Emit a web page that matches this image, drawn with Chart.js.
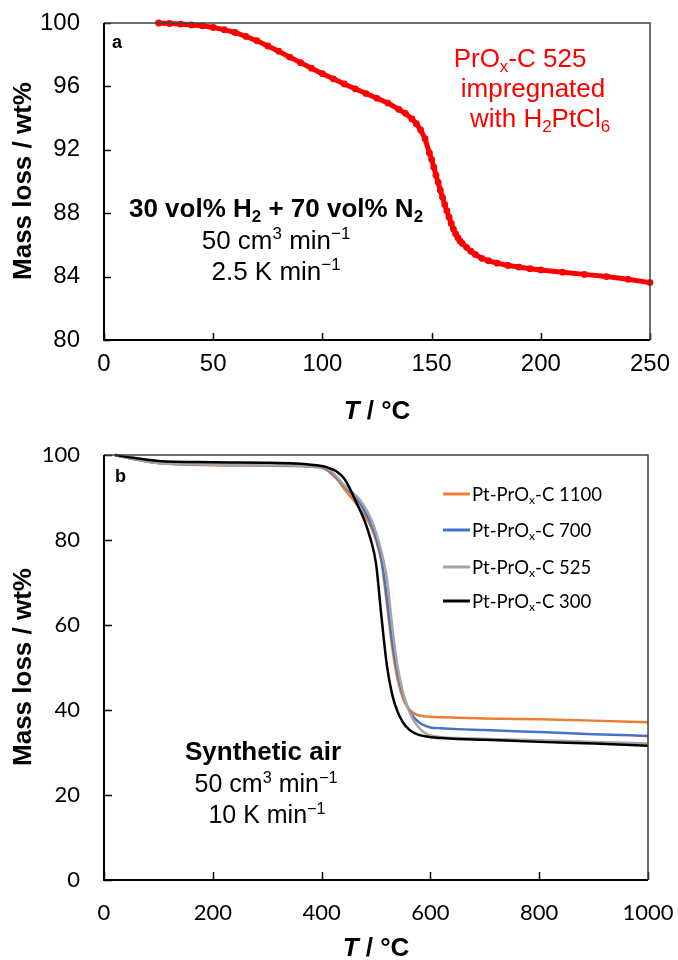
<!DOCTYPE html>
<html>
<head>
<meta charset="utf-8">
<script src="https://cdn.jsdelivr.net/npm/chart.js@4.4.1/dist/chart.umd.min.js"></script>
<style>
  html, body { margin: 0; padding: 0; background: #fff; }
  #wrap { position: relative; width: 678px; height: 960px; }
  #c1 { position: absolute; left: 0; top: 0; }
  #c2 { position: absolute; left: 0; top: 430px; }
</style>
</head>
<body>
<div id="wrap">
  <canvas id="c1" width="678" height="430"></canvas>
  <canvas id="c2" width="678" height="530"></canvas>
</div>
<script>
// (a) PrOx-C 525 impregnated with H2PtCl6, 30% H2 in N2
const tempA = [25, 30, 35, 40, 45, 50, 55, 60, 65, 70, 75, 80, 85, 90, 95, 100, 105, 110, 115, 120, 125, 130, 135,
  138, 141, 143, 145, 147, 149, 150, 151, 152, 153, 154, 155, 156, 157, 158, 159, 160, 161, 162, 163, 164,
  166, 168, 170, 173, 176, 180, 185, 190, 195, 200, 210, 220, 230, 240, 250];
const massA = [100.0, 99.97, 99.93, 99.88, 99.82, 99.72, 99.58, 99.40, 99.15, 98.88, 98.55, 98.22, 97.85, 97.50,
  97.15, 96.80, 96.48, 96.15, 95.85, 95.55, 95.25, 94.95, 94.55, 94.30, 93.95, 93.65, 93.25, 92.70, 91.80,
  91.40, 90.90, 90.40, 89.95, 89.45, 89.00, 88.55, 88.15, 87.75, 87.35, 87.00, 86.70, 86.45, 86.25, 86.10,
  85.85, 85.60, 85.40, 85.15, 85.00, 84.85, 84.70, 84.60, 84.50, 84.42, 84.28, 84.14, 84.00, 83.83, 83.62];
const xTicksA = [0, 50, 100, 150, 200, 250];
const yTicksA = [80, 84, 88, 92, 96, 100];

// (b) Pt-PrOx-C samples in synthetic air
const tempB = [20, 50, 100, 200, 300, 350, 400, 410, 420, 430, 440, 450, 460, 470, 480, 490, 500, 510, 520,
  530, 540, 550, 560, 570, 580, 590, 600, 620, 650, 700, 800, 900, 1000];
const mass1100 = [100, 99.2, 98.1, 97.6, 97.5, 97.4, 97.0, 96.4, 95.3, 94.1, 92.3, 90.7, 89.2, 87.4, 85.6, 83.3,
  79.9, 74.8, 65.0, 54.5, 47.0, 42.6, 40.3, 39.2, 38.7, 38.5, 38.4, 38.3, 38.2, 38.0, 37.8, 37.5, 37.1];
const mass700 = [100, 99.2, 98.1, 97.7, 97.6, 97.5, 97.1, 96.6, 95.7, 94.4, 92.9, 91.6, 90.3, 88.7, 86.6, 84.0,
  80.6, 75.5, 66.5, 56.0, 48.5, 43.5, 40.2, 38.2, 37.0, 36.3, 35.9, 35.7, 35.5, 35.3, 34.8, 34.3, 33.9];
const mass525 = [100, 99.2, 98.1, 97.7, 97.6, 97.5, 97.2, 96.8, 95.9, 94.6, 93.1, 91.9, 90.8, 89.5, 87.6, 85.2,
  81.8, 77.2, 71.0, 59.5, 50.0, 44.0, 40.0, 37.4, 35.7, 34.6, 34.0, 33.6, 33.4, 33.2, 32.9, 32.5, 32.1];
const mass300 = [100, 99.4, 98.6, 98.3, 98.2, 98.0, 97.4, 97.1, 96.6, 95.9, 94.7, 92.6, 89.9, 87.2, 84.2, 80.2,
  74.5, 62.0, 50.5, 43.5, 39.5, 37.0, 35.5, 34.6, 34.1, 33.8, 33.6, 33.4, 33.2, 33.0, 32.5, 32.1, 31.6];
const labelsB = ['Pt-PrO_{x}-C 1100', 'Pt-PrO_{x}-C 700', 'Pt-PrO_{x}-C 525', 'Pt-PrO_{x}-C 300'];
const colorsB = ['#ED7D31', '#4472C4', '#A5A5A5', '#000000'];
const xTicksB = [0, 200, 400, 600, 800, 1000];
const yTicksB = [0, 20, 40, 60, 80, 100];

const ARIAL = "'Liberation Sans', Arial, sans-serif";
const CALIBRI = "Lato, 'Open Sans', sans-serif";

// tiny markup: _{sub} ^{sup} *{italic}
function parse(s) {
  const out = [];
  const re = /([_^*])\{([^}]*)\}/g;
  let last = 0, m;
  while ((m = re.exec(s))) {
    if (m.index > last) out.push({ t: s.slice(last, m.index), m: '' });
    out.push({ t: m[2], m: m[1] === '_' ? 'sub' : m[1] === '^' ? 'sup' : 'i' });
    last = re.lastIndex;
  }
  if (last < s.length) out.push({ t: s.slice(last), m: '' });
  return out;
}

function drawRich(ctx, it) {
  const parts = parse(it.s);
  const fam = it.family || ARIAL;
  const w = it.bold ? 'bold' : 'normal';
  const fontFor = p => {
    const sz = (p.m === 'sub' || p.m === 'sup') ? it.size * 0.65 : it.size;
    return (p.m === 'i' ? 'italic ' : '') + w + ' ' + sz + 'px ' + fam;
  };
  ctx.save();
  ctx.fillStyle = it.color || '#000';
  ctx.textBaseline = 'alphabetic';
  ctx.textAlign = 'left';
  let total = 0;
  parts.forEach(p => { ctx.font = fontFor(p); p.w = ctx.measureText(p.t).width; total += p.w; });
  ctx.translate(it.x, it.y);
  if (it.rot) ctx.rotate(it.rot);
  let x = it.align === 'left' ? 0 : -total / 2;
  parts.forEach(p => {
    ctx.font = fontFor(p);
    const dy = p.m === 'sub' ? it.size * 0.2 : p.m === 'sup' ? -it.size * 0.38 : 0;
    ctx.fillText(p.t, x, dy);
    x += p.w;
  });
  ctx.restore();
}

// box round the plot, ticks pointing inwards
const frame = {
  id: 'frame',
  afterDatasetsDraw(chart, args, o) {
    const { ctx, chartArea: a, scales } = chart;
    ctx.save();
    ctx.strokeStyle = '#000';
    ctx.lineWidth = 1.5;
    scales.y.ticks.forEach(t => {
      const p = Math.round(scales.y.getPixelForValue(t.value)) + 0.5;
      ctx.beginPath(); ctx.moveTo(a.left, p); ctx.lineTo(a.left + o.len, p); ctx.stroke();
    });
    scales.x.ticks.forEach(t => {
      const p = Math.round(scales.x.getPixelForValue(t.value)) + 0.5;
      ctx.beginPath(); ctx.moveTo(p, a.bottom); ctx.lineTo(p, a.bottom - o.len); ctx.stroke();
    });
    ctx.strokeStyle = '#404040';
    ctx.lineWidth = 1.5;
    ctx.beginPath(); ctx.moveTo(a.left, a.top); ctx.lineTo(a.right, a.top); ctx.lineTo(a.right, a.bottom); ctx.stroke();
    ctx.strokeStyle = '#000';
    ctx.lineWidth = 2;
    ctx.beginPath(); ctx.moveTo(a.left, a.top); ctx.lineTo(a.left, a.bottom); ctx.lineTo(a.right, a.bottom); ctx.stroke();
    ctx.restore();
  }
};

const notes = {
  id: 'notes',
  afterDraw(chart, args, o) {
    const ctx = chart.ctx;
    (o.items || []).forEach(it => drawRich(ctx, it));
    if (o.legend) {
      const L = o.legend;
      chart.data.datasets.forEach((ds, i) => {
        const y = L.rows[i];
        ctx.save();
        ctx.strokeStyle = ds.borderColor;
        ctx.lineWidth = 3;
        ctx.beginPath(); ctx.moveTo(L.x0, y); ctx.lineTo(L.x1, y); ctx.stroke();
        ctx.restore();
        drawRich(ctx, { s: ds.label, x: L.x1 + 2, y: y + 6.5, size: 18.5, family: CALIBRI, align: 'left' });
      });
    }
  }
};

function fixedTicks(list) {
  return s => { s.ticks = list.map(v => ({ value: v })); };
}
function fitX(h) {
  return s => { s.height = h; s.paddingLeft = 0; s.paddingRight = 0; };
}
function fitY(w) {
  return s => { s.width = w; s.paddingTop = 0; s.paddingBottom = 0; };
}

new Chart(document.getElementById('c1'), {
  type: 'scatter',
  data: {
    datasets: [{
      label: 'PrOx-C 525',
      data: tempA.map((t, i) => ({ x: t, y: massA[i] })),
      showLine: true,
      borderColor: '#ff0000',
      borderWidth: 5,
      pointRadius: 3.4,
      pointBackgroundColor: '#ff0000',
      pointBorderWidth: 0,
      clip: 8
    }]
  },
  options: {
    responsive: false,
    animation: false,
    layout: { padding: { top: 23, right: 28, left: 0, bottom: 0 } },
    plugins: {
      legend: { display: false },
      tooltip: { enabled: false },
      frame: { len: 7 },
      notes: {
        items: [
          { s: 'a', x: 112, y: 48, size: 18, bold: true, align: 'left' },
          { s: 'PrO_{x}-C 525', x: 520, y: 67, size: 26, color: '#ff0000' },
          { s: 'impregnated', x: 533, y: 97, size: 26, color: '#ff0000' },
          { s: 'with H_{2}PtCl_{6}', x: 540, y: 127, size: 26, color: '#ff0000' },
          { s: '30 vol% H_{2} + 70 vol% N_{2}', x: 276, y: 217, size: 26, bold: true },
          { s: '50 cm^{3} min^{\u22121}', x: 276, y: 249, size: 26 },
          { s: '2.5 K min^{\u22121}', x: 276, y: 280, size: 26 },
          { s: '*{T} / \u00B0C', x: 377, y: 419, size: 26, bold: true },
          { s: 'Mass loss / wt%', x: 31, y: 181, size: 26, bold: true, rot: -Math.PI / 2 }
        ]
      }
    },
    scales: {
      x: {
        type: 'linear', min: 0, max: 250,
        afterBuildTicks: fixedTicks(xTicksA),
        afterFit: fitX(90),
        grid: { display: false, drawTicks: false },
        border: { display: false },
        ticks: { padding: 10, color: '#000', maxRotation: 0, callback: v => String(v), font: { family: ARIAL, size: 24 } }
      },
      y: {
        min: 80, max: 100,
        afterBuildTicks: fixedTicks(yTicksA),
        afterFit: fitY(104),
        grid: { display: false, drawTicks: false },
        border: { display: false },
        ticks: { padding: 24, color: '#000', callback: v => String(v), font: { family: ARIAL, size: 24 } }
      }
    }
  },
  plugins: [frame, notes]
});

const massB = [mass1100, mass700, mass525, mass300];
new Chart(document.getElementById('c2'), {
  type: 'scatter',
  data: {
    datasets: massB.map((arr, i) => ({
      label: labelsB[i],
      data: tempB.map((t, j) => ({ x: t, y: arr[j] })),
      showLine: true,
      borderColor: colorsB[i],
      borderWidth: 2.5,
      pointRadius: 0,
      cubicInterpolationMode: 'monotone',
      order: 4 - i,
      clip: 6
    }))
  },
  options: {
    responsive: false,
    animation: false,
    layout: { padding: { top: 25, right: 30, left: 0, bottom: 0 } },
    plugins: {
      legend: { display: false },
      tooltip: { enabled: false },
      frame: { len: 8 },
      notes: {
        legend: { x0: 443, x1: 470, rows: [64, 100, 137, 171] },
        items: [
          { s: 'b', x: 115, y: 52, size: 18, bold: true, align: 'left' },
          { s: 'Synthetic air', x: 263, y: 330, size: 26, bold: true },
          { s: '50 cm^{3} min^{\u22121}', x: 266, y: 362, size: 25 },
          { s: '10 K min^{\u22121}', x: 267, y: 393, size: 25 },
          { s: '*{T} / \u00B0C', x: 376, y: 526, size: 26, bold: true },
          { s: 'Mass loss / wt%', x: 31, y: 237, size: 26, bold: true, rot: -Math.PI / 2 }
        ]
      }
    },
    scales: {
      x: {
        type: 'linear', min: 0, max: 1000,
        afterBuildTicks: fixedTicks(xTicksB),
        afterFit: fitX(80),
        grid: { display: false, drawTicks: false },
        border: { display: false },
        ticks: { padding: 20, color: '#000', maxRotation: 0, callback: v => String(v), font: { family: CALIBRI, size: 22 } }
      },
      y: {
        min: 0, max: 100,
        afterBuildTicks: fixedTicks(yTicksB),
        afterFit: fitY(104),
        grid: { display: false, drawTicks: false },
        border: { display: false },
        ticks: { padding: 24, color: '#000', callback: v => String(v), font: { family: CALIBRI, size: 22 } }
      }
    }
  },
  plugins: [frame, notes]
});
</script>
</body>
</html>
